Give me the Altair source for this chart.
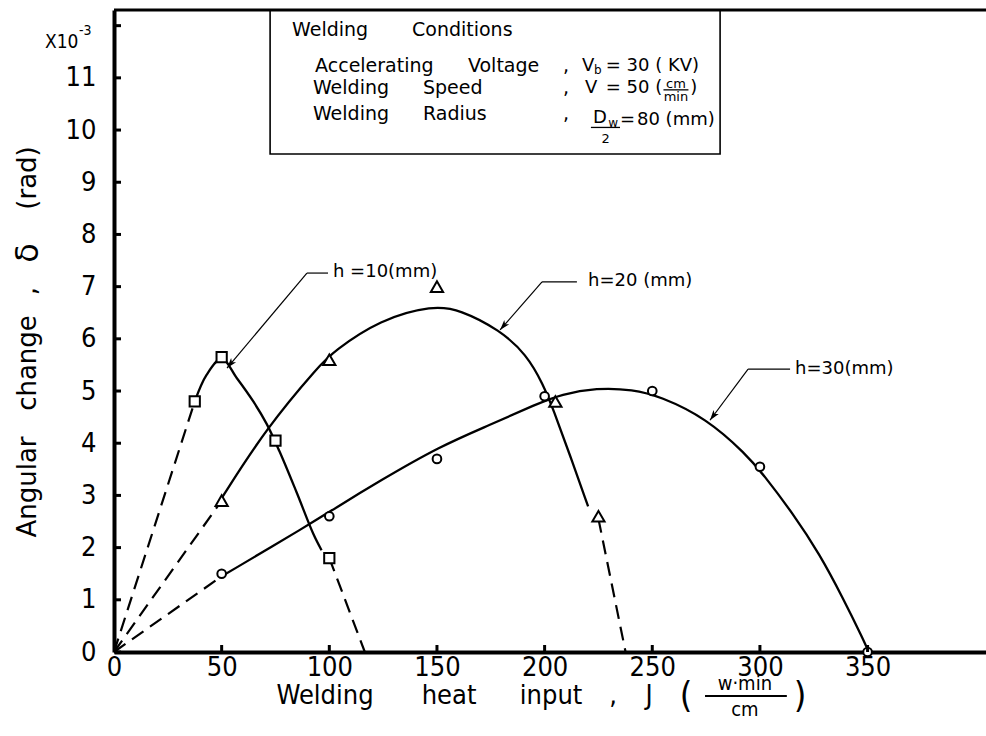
import altair as alt
import pandas as pd

COND = "DejaVu Sans Condensed, Liberation Sans Narrow, DejaVu Sans, sans-serif"
SANS = "DejaVu Sans, sans-serif"

# ---- measured points (heat input J, angular change x10^-3 rad) ----
sq_x = [37.5, 50, 75, 100]            # h = 10 mm
sq_y = [4.8, 5.65, 4.05, 1.8]
tri_x = [50, 100, 150, 205, 225]      # h = 20 mm
tri_y = [2.9, 5.6, 7.0, 4.8, 2.6]
cir_x = [50, 100, 150, 200, 250, 300, 350]   # h = 30 mm
cir_y = [1.5, 2.6, 3.7, 4.9, 5.0, 3.55, 0.0]

# ---- faired curves (solid parts) ----
h10_x = [37.5, 43, 50, 57, 64.7, 70.9, 76.8, 84.8, 92.5, 96.4]
h10_y = [4.8, 5.31, 5.62, 5.25, 4.8, 4.37, 3.85, 3.06, 2.27, 1.95]
h20_x = [50, 70.9, 95.6, 101.8, 123.5, 148.3, 160.6, 179.2, 191.6, 199.3, 204, 211.7, 220.2]
h20_y = [2.95, 4.3, 5.5, 5.75, 6.37, 6.64, 6.56, 6.17, 5.7, 5.13, 4.65, 3.78, 2.79]
h30_x = [50, 91, 101.7, 123.5, 151.3, 174.6, 196.2, 207.8, 224.1, 241.1, 253.5,
         275.1, 293.8, 301.4, 315.4, 327.8, 338.6, 347.9, 350]
h30_y = [1.45, 2.45, 2.73, 3.28, 3.94, 4.35, 4.75, 4.94, 5.06, 5.03, 4.9,
         4.48, 3.78, 3.41, 2.65, 1.87, 1.03, 0.25, 0.05]

# ---- dashed extrapolations (to the origin and down to zero) ----
dash_id = ["a", "a", "b", "b", "c", "c", "d", "d", "e", "e"]
dash_x = [0, 37.5, 100, 116.5, 0, 50, 225, 237.6, 0, 50]
dash_y = [0, 4.8, 1.8, 0, 0, 2.9, 2.55, 0, 0, 1.45]

# ---- axes ----
x_ticks = [0, 50, 100, 150, 200, 250, 300, 350]
y_ticks = list(range(0, 12))
y_tick_marks = list(range(0, 13))

W, H = 872, 642
xs = alt.Scale(domain=[0, 405], nice=False, zero=False)
ys = alt.Scale(domain=[0, 12.3], nice=False, zero=False)
x_axis = alt.Axis(values=x_ticks, ticks=False, grid=False, domainColor="black",
                  domainWidth=4, labelFont=COND, labelFontSize=27, labelColor="black",
                  labelPadding=2, labelFlush=False, title=None)
y_axis = alt.Axis(values=y_ticks, ticks=False, grid=False, domainColor="black",
                  domainWidth=4, labelFont=COND, labelFontSize=27, labelColor="black",
                  labelPadding=18, title=None)


def X(f="x"):
    return alt.X(f"{f}:Q", scale=xs, axis=x_axis)


def Y(f="y"):
    return alt.Y(f"{f}:Q", scale=ys, axis=y_axis)


def curve_df(cid, xv, yv):
    return pd.DataFrame({"id": cid, "x": xv, "y": yv})


def solid_curve(df, interp):
    return alt.Chart(df).mark_line(
        color="black", strokeWidth=2.3, interpolate=interp
    ).encode(x=X(), y=Y(), detail="id:N")


h10_layer = solid_curve(curve_df("h10", h10_x, h10_y), "catmull-rom")
h2030_layer = solid_curve(pd.concat([curve_df("h20", h20_x, h20_y),
                                     curve_df("h30", h30_x, h30_y)]), "basis")

dashed = pd.DataFrame({"id": dash_id, "x": dash_x, "y": dash_y})
dash_layer = alt.Chart(dashed).mark_line(
    color="black", strokeWidth=2.2, strokeDash=[14, 8]
).encode(x=X(), y=Y(), detail="id:N")


def markers(xv, yv, shape, size):
    return alt.Chart(pd.DataFrame({"x": xv, "y": yv})).mark_point(
        shape=shape, size=size, filled=True, fill="white", stroke="black",
        strokeWidth=2, opacity=1
    ).encode(x=X(), y=Y())


# inward tick marks
ytick_layer = alt.Chart(pd.DataFrame({"y": y_tick_marks})).mark_rule(
    color="black", strokeWidth=3
).encode(y=Y(), x=alt.value(0), x2=alt.value(7))
xtick_layer = alt.Chart(pd.DataFrame({"x": x_ticks[1:]})).mark_rule(
    color="black", strokeWidth=3
).encode(x=X(), y=alt.value(H), y2=alt.value(H - 7))

top_border = alt.Chart(pd.DataFrame({"k": [0]})).mark_rule(
    color="black", strokeWidth=3
).encode(x=alt.value(0), x2=alt.value(W), y=alt.value(0))

# ---- welding-conditions box ----
box = alt.Chart(pd.DataFrame({"x": [72.5], "x2": [281.5], "y": [9.54], "y2": [12.3]})).mark_rect(
    fillOpacity=0, stroke="black", strokeWidth=1.6
).encode(x=X(), x2="x2:Q", y=Y(), y2="y2:Q")


def texts(rows, size, align="left", font=SANS):
    df = pd.DataFrame(rows, columns=["x", "y", "t"])
    return alt.Chart(df).mark_text(
        align=align, baseline="middle", font=font, fontSize=size, color="black"
    ).encode(x=X(), y=Y(), text="t:N")


box_text = texts([
    (82.7, 11.92, "Welding"), (138.4, 11.92, "Conditions"),
    (93.4, 11.23, "Accelerating"), (164.4, 11.23, "Voltage"), (208.5, 11.23, ","),
    (92.4, 10.81, "Welding"), (143.5, 10.81, "Speed"), (208.5, 10.81, ","),
    (92.4, 10.31, "Welding"), (143.5, 10.31, "Radius"), (208.5, 10.31, ","),
], 19)
box_vals = texts([
    (217.4, 11.23, "V"), (228.4, 11.23, "= 30 ( KV)"),
    (218.8, 10.81, "V"), (228.4, 10.81, "= 50 ("), (267.6, 10.81, ")"),
    (222.5, 10.24, "D"), (235.0, 10.2, "="), (242.9, 10.2, "80 (mm)"),
], 18)
box_small = texts([
    (222.9, 11.16, "b"), (229.6, 10.14, "w"),
], 12)
box_frac = texts([
    (261.0, 10.89, "cm"), (261.0, 10.63, "min"), (228.3, 9.82, "2"),
], 13, align="center")
frac_bars = alt.Chart(pd.DataFrame({
    "x": [255.2, 221.5], "x2": [266.8, 235.0], "y": [10.77, 10.05]
})).mark_rule(color="black", strokeWidth=1.3).encode(x=X(), x2="x2:Q", y=Y())

# ---- curve labels with leaders ----
labels = texts([
    (101.7, 7.28, "h =10(mm)"), (220.2, 7.11, "h=20 (mm)"), (316.3, 5.42, "h=30(mm)"),
], 18)
leaders = alt.Chart(pd.DataFrame({
    "x": [89.6, 89.6, 198.8, 198.8, 294.5, 294.5],
    "x2": [99.4, 52.5, 215.0, 179.3, 314.0, 276.8],
    "y": [7.26, 7.26, 7.09, 7.09, 5.42, 5.42],
    "y2": [7.26, 5.44, 7.09, 6.17, 5.42, 4.44],
})).mark_rule(color="black", strokeWidth=1.2).encode(x=X(), x2="x2:Q", y=Y(), y2="y2:Q")
heads = alt.Chart(pd.DataFrame({
    "x": [52.5, 179.3, 276.8], "y": [5.44, 6.17, 4.44], "a": [220, 221, 217]
})).mark_point(
    shape="M0,0 L-0.32,1 L0,0.75 L0.32,1 Z", size=420, filled=True,
    color="black", opacity=1
).encode(x=X(), y=Y(), angle=alt.Angle("a:Q", scale=None))

# ---- axis titles ----
x_title = alt.Chart(pd.DataFrame({
    "x": [98.0, 155.6, 203.0, 231.8, 248.5],
    "t": ["Welding", "heat", "input", ",", "J"],
})).mark_text(align="center", baseline="middle", font=COND, fontSize=27,
              color="black").encode(x=X(), y=alt.value(686), text="t:N")
x_paren = alt.Chart(pd.DataFrame({"x": [265.7, 318.6], "t": ["(", ")"]})).mark_text(
    align="center", baseline="middle", font=COND, fontSize=36, color="black"
).encode(x=X(), y=alt.value(686), text="t:N")
x_unit_top = alt.Chart(pd.DataFrame({"x": [293.0], "t": ["w·min"]})).mark_text(
    align="center", baseline="middle", font=COND, fontSize=20, color="black"
).encode(x=X(), y=alt.value(674), text="t:N")
x_unit_bot = alt.Chart(pd.DataFrame({"x": [293.0], "t": ["cm"]})).mark_text(
    align="center", baseline="middle", font=COND, fontSize=20, color="black"
).encode(x=X(), y=alt.value(700), text="t:N")
x_unit_bar = alt.Chart(pd.DataFrame({"x": [274.5], "x2": [312.5]})).mark_rule(
    color="black", strokeWidth=1.8
).encode(x=X(), x2="x2:Q", y=alt.value(686))

y_words = ["Angular", "change", ",", "(rad)"]
y_pos = [477, 353, 281, 168]
y_title = alt.Chart(pd.DataFrame({"t": y_words, "p": y_pos})).mark_text(
    align="center", baseline="middle", font=SANS, fontSize=26, angle=270, color="black"
).encode(x=alt.value(-86), y=alt.Y("p:Q", scale=None), text="t:N")
y_delta = alt.Chart(pd.DataFrame({"t": ["δ"]})).mark_text(
    align="center", baseline="middle", font=SANS, fontSize=32, angle=270, color="black"
).encode(x=alt.value(-86), y=alt.value(243), text="t:N")

y_exp = alt.Chart(pd.DataFrame({"t": ["X10"]})).mark_text(
    align="left", baseline="middle", font=COND, fontSize=19, color="black"
).encode(x=alt.value(-69), y=alt.value(32), text="t:N")
y_exp2 = alt.Chart(pd.DataFrame({"t": ["-3"]})).mark_text(
    align="left", baseline="middle", font=COND, fontSize=14, color="black"
).encode(x=alt.value(-35), y=alt.value(21), text="t:N")

chart = alt.layer(
    dash_layer, h10_layer, h2030_layer,
    markers(sq_x, sq_y, "square", 105),
    markers(tri_x, tri_y, "triangle-up", 150),
    markers(cir_x, cir_y, "circle", 75),
    ytick_layer, xtick_layer, top_border,
    box, box_text, box_vals, box_small, box_frac, frac_bars,
    leaders, heads, labels,
    x_title, x_paren, x_unit_top, x_unit_bot, x_unit_bar,
    y_title, y_delta, y_exp, y_exp2,
).properties(
    width=W, height=H,
    padding={"left": 114, "top": 10, "right": 0, "bottom": 84},
    autosize=alt.AutoSizeParams(type="none"),
).configure(background="white").configure_view(stroke=None)

chart.save("out.html", embed_options={"renderer": "svg", "actions": False})
